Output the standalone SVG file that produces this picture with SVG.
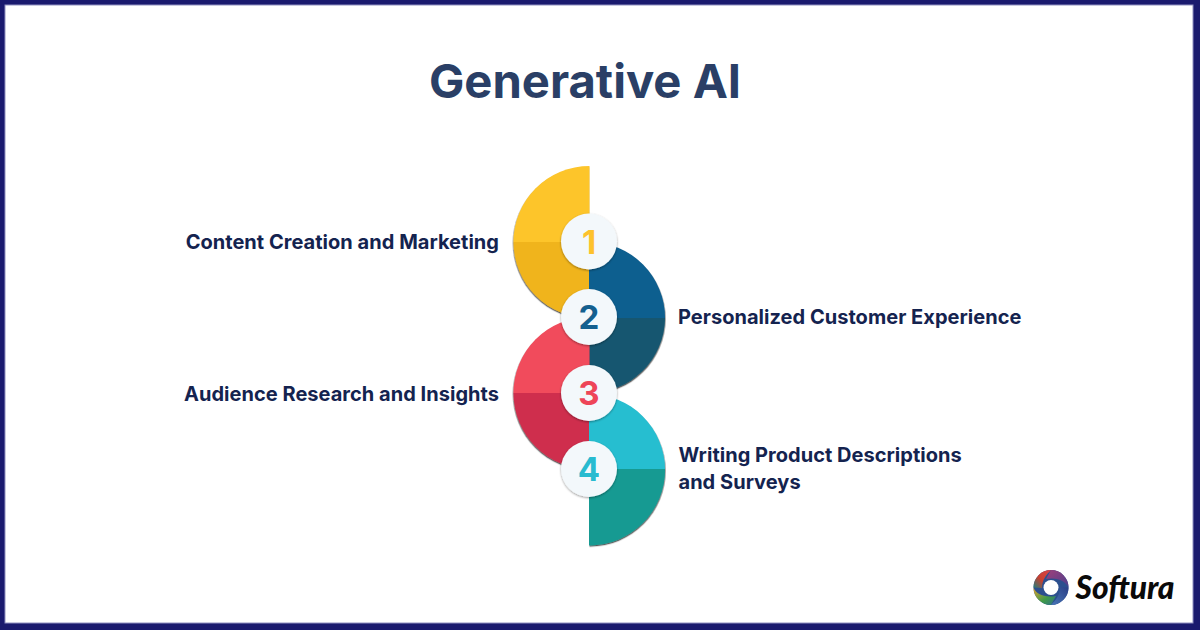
<svg xmlns="http://www.w3.org/2000/svg" width="1200" height="630" viewBox="0 0 1200 630">
<defs>
<filter id="shl" x="-20%" y="-20%" width="140%" height="140%"><feDropShadow dx="-0.5" dy="1.2" stdDeviation="0.5" flood-color="#000" flood-opacity="0.65"/></filter>
<filter id="shr" x="-20%" y="-20%" width="140%" height="140%"><feDropShadow dx="0.5" dy="1.2" stdDeviation="0.5" flood-color="#000" flood-opacity="0.65"/></filter>
<filter id="sc" x="-20%" y="-20%" width="140%" height="140%"><feDropShadow dx="0" dy="1" stdDeviation="0.8" flood-color="#000" flood-opacity="0.4"/></filter>
<linearGradient id="lg1" x1="0" y1="1" x2="1" y2="0"><stop offset="0" stop-color="#1f7f7a"/><stop offset="0.45" stop-color="#c8402f"/><stop offset="1" stop-color="#d9444a"/></linearGradient>
<linearGradient id="lg2" x1="0" y1="0" x2="1" y2="1"><stop offset="0" stop-color="#a0407a"/><stop offset="1" stop-color="#4a3f8e"/></linearGradient>
<linearGradient id="lg3" x1="1" y1="0" x2="0" y2="1"><stop offset="0" stop-color="#2a3f86"/><stop offset="1" stop-color="#4a78b8"/></linearGradient>
<linearGradient id="lg4" x1="0" y1="0" x2="1" y2="1"><stop offset="0" stop-color="#e0a030"/><stop offset="0.6" stop-color="#3f9a48"/><stop offset="1" stop-color="#2f6f8e"/></linearGradient>
</defs>
<style>
.lbl{font-family:Inter,"Liberation Sans",sans-serif;font-weight:700;font-size:20px;letter-spacing:.03px;fill:#14234f}
.num{font-family:Inter,"Liberation Sans",sans-serif;font-weight:700;font-size:33px;text-anchor:middle}
.badge{fill:#f3f8fb;filter:url(#sc)}
</style>
<rect width="1200" height="630" fill="#1a1a6e"/>
<rect x="5" y="5" width="1188" height="618" fill="#fff" stroke="#8f8fc0" stroke-width="1"/>
<text id="title" x="585" y="98" text-anchor="middle" font-family="Inter,'Liberation Sans',sans-serif" font-weight="700" font-size="47.200" fill="#2a3f66">Generative AI</text>

<g id="node-1">
<g filter="url(#shl)">
<path d="M589.500 166A76 76 0 0 0 513.500 242H589.500Z" fill="#fdc52c"/>
<path d="M513.500 242A76 76 0 0 0 589.500 318V242Z" fill="#f0b41f"/>
</g>
<text class="lbl" x="499" y="248.500" text-anchor="end">Content Creation and Marketing</text>
</g>
<g id="node-2">
<g filter="url(#shr)">
<path d="M589 242A76 76 0 0 1 665 318H589Z" fill="#105f8f"/>
<path d="M665 318A76 76 0 0 1 589 393V318Z" fill="#14566f"/>
</g>
<text class="lbl" x="678" y="323.500">Personalized Customer Experience</text>
</g>
<g id="node-3">
<g filter="url(#shl)">
<path d="M589.500 317A76 76 0 0 0 513.500 393H589.500Z" fill="#f14c5c"/>
<path d="M513.500 393A76 76 0 0 0 589.500 469V393Z" fill="#cf2f4d"/>
</g>
<text class="lbl" x="499" y="400.500" text-anchor="end">Audience Research and Insights</text>
</g>
<g id="node-4">
<g filter="url(#shr)">
<path d="M589 394A76 76 0 0 1 665 469H589Z" fill="#28bed0"/>
<path d="M665 469A76 76 0 0 1 589 545.500V469Z" fill="#149a92"/>
</g>
<text class="lbl" x="678.500" y="462">Writing Product Descriptions</text>
<text class="lbl" x="678.500" y="489">and Surveys</text>
</g>
<g id="badge-1"><circle class="badge" cx="589" cy="241.500" r="28"/><text class="num" x="589" y="253.500" fill="#fdc22c">1</text></g>
<g id="badge-2"><circle class="badge" cx="589" cy="317" r="28"/><text class="num" x="589" y="329" fill="#14608f">2</text></g>
<g id="badge-3"><circle class="badge" cx="589" cy="393" r="28"/><text class="num" x="589" y="405" fill="#ee4558">3</text></g>
<g id="badge-4"><circle class="badge" cx="589" cy="469" r="28"/><text class="num" x="589" y="481" fill="#28bbd0">4</text></g>

<g id="logo">
<circle cx="1051" cy="587.500" r="17.500" fill="#2c4f8e"/>
<path d="M1033.500 587.500A17.500 17.500 0 0 1 1051 570C1046 575 1042 580 1042 588Z" fill="url(#lg1)"/>
<path d="M1051 570A17.500 17.500 0 0 1 1068.500 587.500C1065 581 1058 577 1046 579Z" fill="url(#lg2)"/>
<path d="M1068.500 587.500A17.500 17.500 0 0 1 1051 605C1056 600 1060 595 1060 587Z" fill="url(#lg3)"/>
<path d="M1051 605A17.500 17.500 0 0 1 1033.500 587.500C1036 594 1044 598 1056 596Z" fill="url(#lg4)"/>
<circle cx="1051" cy="587.500" r="7.500" fill="#fff"/>
<text x="1075.500" y="598.500" font-family="Lato,'Liberation Sans',sans-serif" font-style="italic" font-weight="900" font-size="33" textLength="99" lengthAdjust="spacingAndGlyphs" fill="#0a0a0a">Softura</text>
</g>
</svg>
